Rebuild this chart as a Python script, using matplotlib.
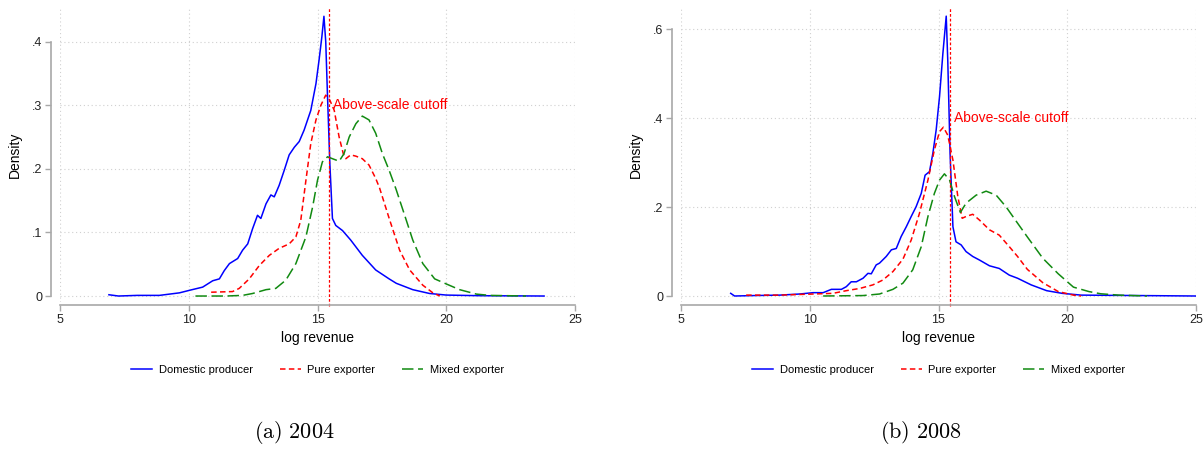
import numpy as np
import matplotlib
matplotlib.use("Agg")
import matplotlib.pyplot as plt

plt.rcParams['font.family'] = ['Liberation Sans', 'DejaVu Sans']
plt.rcParams['mathtext.fontset'] = 'cm'

# ---- 2004 ----
dom04_x = [6.9, 7.27, 8.0, 8.86, 9.64, 10.03, 10.54, 10.93, 11.19, 11.38, 11.58, 11.9, 12.09, 12.29,
           12.48, 12.67, 12.8, 13.0, 13.19, 13.32, 13.51, 13.71, 13.9, 14.1, 14.29, 14.48, 14.74,
           14.94, 15.06, 15.17, 15.25, 15.32, 15.39, 15.48, 15.58, 15.71, 15.97, 16.29, 16.74,
           17.26, 17.78, 18.06, 18.7, 19.35, 20.0, 21.3, 23.8]
dom04_y = [0.002, 0.0, 0.001, 0.001, 0.005, 0.009, 0.014, 0.024, 0.027, 0.040, 0.051, 0.059, 0.072,
           0.082, 0.106, 0.127, 0.122, 0.145, 0.159, 0.156, 0.174, 0.198, 0.222, 0.234, 0.243, 0.261,
           0.292, 0.334, 0.371, 0.408, 0.44, 0.40, 0.313, 0.208, 0.122, 0.111, 0.103, 0.088, 0.064,
           0.041, 0.027, 0.020, 0.010, 0.004, 0.0015, 0.0005, 0.0]

pure04_x = [10.87, 11.7, 11.96, 12.35, 12.74, 13.13, 13.51, 13.9, 14.16, 14.35, 14.55, 14.74, 14.94,
            15.13, 15.32, 15.48, 15.65, 15.84, 16.0, 16.1, 16.29, 16.49, 16.74, 17.0, 17.26, 17.41,
            17.8, 18.19, 18.58, 19.09, 19.48, 19.75]
pure04_y = [0.006, 0.007, 0.012, 0.027, 0.048, 0.064, 0.075, 0.082, 0.093, 0.119, 0.182, 0.240, 0.277,
            0.300, 0.316, 0.308, 0.292, 0.250, 0.224, 0.216, 0.222, 0.220, 0.216, 0.206, 0.185, 0.170,
            0.120, 0.072, 0.041, 0.017, 0.005, 0.0]

mix04_x = [10.26, 11.45, 12.09, 12.48, 13.0, 13.38, 13.77, 14.16, 14.55, 14.81, 15.0, 15.19, 15.39,
           15.58, 15.84, 16.03, 16.23, 16.49, 16.74, 17.0, 17.26, 17.52, 17.78, 18.05, 18.32, 18.7,
           19.09, 19.55, 20.0, 20.52, 21.17, 21.7, 23.1]
mix04_y = [0.0, 0.0, 0.001, 0.004, 0.010, 0.012, 0.025, 0.051, 0.093, 0.140, 0.182, 0.211, 0.219,
           0.216, 0.212, 0.224, 0.250, 0.271, 0.283, 0.277, 0.256, 0.224, 0.198, 0.168, 0.135, 0.088,
           0.051, 0.027, 0.019, 0.010, 0.003, 0.001, 0.0]

# ---- 2008 ----
dom08_x = [6.93, 7.08, 7.83, 8.84, 9.61, 10.13, 10.52, 10.84, 11.23, 11.42, 11.61, 11.81, 12.07,
           12.26, 12.39, 12.58, 12.71, 12.97, 13.17, 13.36, 13.55, 13.75, 13.94, 14.13, 14.33, 14.48,
           14.65, 14.78, 14.91, 15.04, 15.17, 15.3, 15.36, 15.45, 15.56, 15.68, 15.88, 16.07, 16.33,
           16.59, 16.98, 17.36, 17.75, 18.07, 18.6, 19.2, 19.8, 20.54, 25.0]
dom08_y = [0.006, 0.0, 0.001, 0.002, 0.0045, 0.0075, 0.0075, 0.015, 0.015, 0.021, 0.032, 0.032, 0.040,
           0.051, 0.050, 0.070, 0.074, 0.089, 0.104, 0.107, 0.134, 0.156, 0.179, 0.201, 0.231, 0.272,
           0.280, 0.321, 0.374, 0.449, 0.546, 0.63, 0.53, 0.32, 0.156, 0.122, 0.115, 0.100, 0.089,
           0.081, 0.068, 0.062, 0.047, 0.040, 0.025, 0.012, 0.006, 0.002, 0.0]

pure08_x = [7.53, 8.84, 10.13, 10.9, 11.42, 11.94, 12.45, 12.84, 13.23, 13.62, 13.94, 14.26, 14.59,
            14.84, 15.04, 15.19, 15.36, 15.56, 15.75, 15.92, 16.07, 16.33, 16.59, 16.98, 17.36, 17.75,
            18.07, 18.45, 19.05, 19.65, 20.24, 20.54]
pure08_y = [0.002, 0.002, 0.0045, 0.006, 0.012, 0.017, 0.025, 0.036, 0.055, 0.083, 0.126, 0.186, 0.261,
            0.329, 0.370, 0.380, 0.362, 0.306, 0.224, 0.175, 0.179, 0.184, 0.171, 0.149, 0.137, 0.111,
            0.089, 0.060, 0.030, 0.010, 0.002, 0.0]

mix08_x = [10.52, 12.07, 12.71, 13.23, 13.62, 14.0, 14.33, 14.59, 14.84, 15.04, 15.23, 15.43, 15.62,
           15.85, 16.07, 16.46, 16.85, 17.24, 17.62, 18.07, 18.45, 19.05, 19.65, 20.24, 20.84, 21.3,
           22.0, 23.1]
mix08_y = [0.0, 0.001, 0.0045, 0.015, 0.029, 0.059, 0.111, 0.179, 0.231, 0.261, 0.275, 0.261, 0.224,
           0.188, 0.209, 0.227, 0.236, 0.227, 0.201, 0.164, 0.133, 0.085, 0.050, 0.020, 0.010, 0.005,
           0.002, 0.0]

cutoff = 15.45
labels = ["Domestic producer", "Pure exporter", "Mixed exporter"]
captions = [r"$\mathrm{(a)\ 2004}$", r"$\mathrm{(b)\ 2008}$"]

panels = [
    dict(series=[(dom04_x, dom04_y), (pure04_x, pure04_y), (mix04_x, mix04_y)],
         yticks=[0, 0.1, 0.2, 0.3, 0.4], yticklabels=["0", ".1", ".2", ".3", ".4"],
         ylim=(-0.0094, 0.4546), text_y=0.30, left=60),
    dict(series=[(dom08_x, dom08_y), (pure08_x, pure08_y), (mix08_x, mix08_y)],
         yticks=[0, 0.2, 0.4, 0.6], yticklabels=["0", ".2", ".4", ".6"],
         ylim=(-0.0135, 0.6506), text_y=0.40, left=681),
]

colors = ["#0000ff", "#ff0000", "#118a11"]
dashes = [None, (3.6, 2.2), (7.5, 3)]

W, H = 1203, 449
fig = plt.figure(figsize=(W / 100, H / 100), dpi=100)
axis_gray = "#a8a8a8"

for p, cap_x, cap in zip(panels, [294.5, 921], captions):
    ax = fig.add_axes([p["left"] / W, 147 / H, 515 / W, 295 / H])
    for (xs, ys), c, d, lab in zip(p["series"], colors, dashes, labels):
        line, = ax.plot(xs, ys, color=c, lw=1.1, label=lab)
        if d is not None:
            line.set_dashes(d)
    ax.axvline(cutoff, ymin=-0.012, ymax=1, color="#ff0000", lw=0.9,
               dashes=(2.2, 1.6), clip_on=False)
    ax.text(15.6, p["text_y"], "Above-scale cutoff", color="#ff0000",
            fontsize=10, ha="left", va="center")

    ax.set_xlim(5, 25)
    ax.set_ylim(*p["ylim"])
    ax.set_xticks([5, 10, 15, 20, 25])
    ax.set_yticks(p["yticks"])
    ax.set_yticklabels(p["yticklabels"])
    ax.grid(True, color="#d0d0d0", lw=0.8, dashes=(1, 2.5))
    ax.set_axisbelow(True)

    for s in ["top", "right"]:
        ax.spines[s].set_visible(False)
    ax.spines["left"].set_position(("outward", 6.5))
    ax.spines["bottom"].set_position(("outward", 2.2))
    ax.spines["left"].set_bounds(p["yticks"][0], p["yticks"][-1])
    ax.spines["bottom"].set_bounds(5, 25)
    for s in ["left", "bottom"]:
        ax.spines[s].set_color(axis_gray)
        ax.spines[s].set_linewidth(1.2)
    ax.tick_params(axis="both", length=4.3, width=1, color=axis_gray,
                   labelsize=9, labelcolor="#222222", pad=2)

    ax.set_xlabel("log revenue", fontsize=10, labelpad=4)
    ax.set_ylabel("Density", fontsize=10, labelpad=7)

    ax.legend(loc="center", bbox_to_anchor=(0.5, -0.2305), ncol=3, frameon=False,
              fontsize=8, handlelength=1.9, handletextpad=0.6, columnspacing=2.4)

    fig.text(cap_x / W, 1 - 432 / H, cap, fontsize=16, ha="center", va="center")

fig.savefig("out.png", dpi=100)
